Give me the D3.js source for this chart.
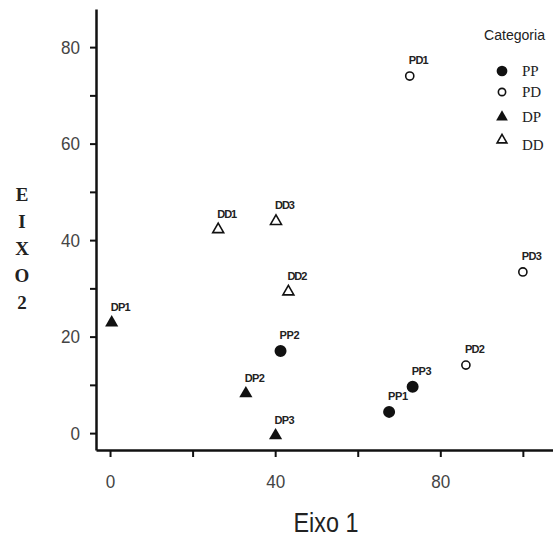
<!DOCTYPE html>
<html>
<head>
<meta charset="utf-8">
<script src="https://cdn.jsdelivr.net/npm/d3@7"></script>
<style>
  body { margin: 0; background: #fff; }
  svg { display: block; }
</style>
</head>
<body>
<div id="chart"></div>
<script>
// data
const names = ["PP1", "PP2", "PP3", "PD1", "PD2", "PD3", "DP1", "DP2", "DP3", "DD1", "DD2", "DD3"];
const groups = ["PP", "PP", "PP", "PD", "PD", "PD", "DP", "DP", "DP", "DD", "DD", "DD"];
const eixo1 = [67.6, 41.3, 73.3, 72.6, 86.2, 100, 0.4, 32.9, 40.1, 26.2, 43.2, 40.2];
const eixo2 = [4.4, 17.0, 9.6, 74.0, 14.1, 33.4, 22.9, 8.2, -0.5, 42.2, 29.3, 43.9];
const categories = ["PP", "PD", "DP", "DD"];
const xTicks = [0, 20, 40, 60, 80, 100];
const yTicks = [0, 10, 20, 30, 40, 50, 60, 70, 80];
const xLabelled = [0, 40, 80];
const yLabelled = [0, 20, 40, 60, 80];

const width = 553;
const height = 539;
const sans = "'Liberation Sans', Arial, sans-serif";
const serif = "'Liberation Serif', 'DejaVu Serif', serif";

const svg = d3.select("#chart")
  .append("svg")
  .attr("width", width)
  .attr("height", height);

const xScale = d3.scaleLinear().domain([-3.4, 107.3]).range([96, 553]);
const yScale = d3.scaleLinear().domain([-3.5, 87.9]).range([450, 9]);

const style = {
  PP: { shape: d3.symbolCircle, size: 113, fill: "#111", stroke: "none" },
  PD: { shape: d3.symbolCircle, size: 52, fill: "#fff", stroke: "#111" },
  DP: { shape: d3.symbolTriangle, size: 75, fill: "#111", stroke: "none" },
  DD: { shape: d3.symbolTriangle, size: 52, fill: "#fff", stroke: "#111" },
};

// axes
const xAxis = d3.axisBottom(xScale)
  .tickValues(xTicks)
  .tickSizeInner(7)
  .tickSizeOuter(0)
  .tickPadding(18)
  .tickFormat((d) => (xLabelled.includes(d) ? d : ""));
const yAxis = d3.axisLeft(yScale)
  .tickValues(yTicks)
  .tickSizeInner(6)
  .tickSizeOuter(0)
  .tickPadding(10)
  .tickFormat((d) => (yLabelled.includes(d) ? d : ""));

const xg = svg.append("g").attr("transform", "translate(0,450)").call(xAxis);
const yg = svg.append("g").attr("transform", "translate(96,0)").call(yAxis);

[xg, yg].forEach((g) => {
  g.select(".domain").attr("stroke", "#111").attr("stroke-width", 2.5);
  g.selectAll(".tick line").attr("stroke", "#111").attr("stroke-width", 2);
  g.selectAll(".tick text")
    .attr("fill", "#444")
    .style("font-family", sans)
    .style("font-size", "19px")
    .attr("textLength", (d) => String(d).length * 9.5)
    .attr("lengthAdjust", "spacingAndGlyphs");
});

// axis titles
svg.append("text")
  .attr("x", 326)
  .attr("y", 532)
  .attr("text-anchor", "middle")
  .style("font-family", sans)
  .style("font-size", "27px")
  .attr("fill", "#222")
  .attr("textLength", 65)
  .attr("lengthAdjust", "spacingAndGlyphs")
  .text("Eixo 1");

svg.append("g")
  .selectAll("text")
  .data(["E", "I", "X", "O", "2"])
  .join("text")
  .attr("x", 22)
  .attr("y", (d, i) => 201 + i * 27)
  .attr("text-anchor", "middle")
  .style("font-family", serif)
  .style("font-weight", "bold")
  .style("font-size", "19px")
  .attr("fill", "#222")
  .text((d) => d);

// points
const points = names.map((n, i) => ({ name: n, group: groups[i], x: eixo1[i], y: eixo2[i] }));

const pg = svg.append("g");
pg.selectAll("path")
  .data(points)
  .join("path")
  .attr("transform", (d) => `translate(${xScale(d.x)},${yScale(d.y)})`)
  .attr("d", (d) => d3.symbol().type(style[d.group].shape).size(style[d.group].size)())
  .attr("fill", (d) => style[d.group].fill)
  .attr("stroke", (d) => style[d.group].stroke)
  .attr("stroke-width", 1.6);

pg.selectAll("text")
  .data(points)
  .join("text")
  .attr("x", (d) => xScale(d.x) - 1)
  .attr("y", (d) => yScale(d.y) - 12)
  .style("font-family", sans)
  .style("font-weight", "bold")
  .style("font-size", "11px")
  .attr("fill", "#222")
  .attr("textLength", 20)
  .attr("lengthAdjust", "spacing")
  .text((d) => d.name);

// legend
const legend = svg.append("g");
legend.append("text")
  .attr("x", 484)
  .attr("y", 40)
  .style("font-family", sans)
  .style("font-size", "14px")
  .attr("fill", "#222")
  .attr("textLength", 61)
  .attr("lengthAdjust", "spacingAndGlyphs")
  .text("Categoria");

const legendY = [71, 92, 117, 140];
const items = legend.selectAll("g.item")
  .data(categories)
  .join("g")
  .attr("class", "item")
  .attr("transform", (d, i) => `translate(502,${legendY[i]})`);

items.append("path")
  .attr("d", (d) => d3.symbol().type(style[d].shape).size(style[d].size * 0.8)())
  .attr("fill", (d) => style[d].fill)
  .attr("stroke", (d) => style[d].stroke)
  .attr("stroke-width", 1.6);

items.append("text")
  .attr("x", 20)
  .attr("y", (d) => (d === "DD" ? 10 : 5))
  .style("font-family", serif)
  .style("font-size", "15px")
  .attr("fill", "#222")
  .text((d) => d);
</script>
</body>
</html>
